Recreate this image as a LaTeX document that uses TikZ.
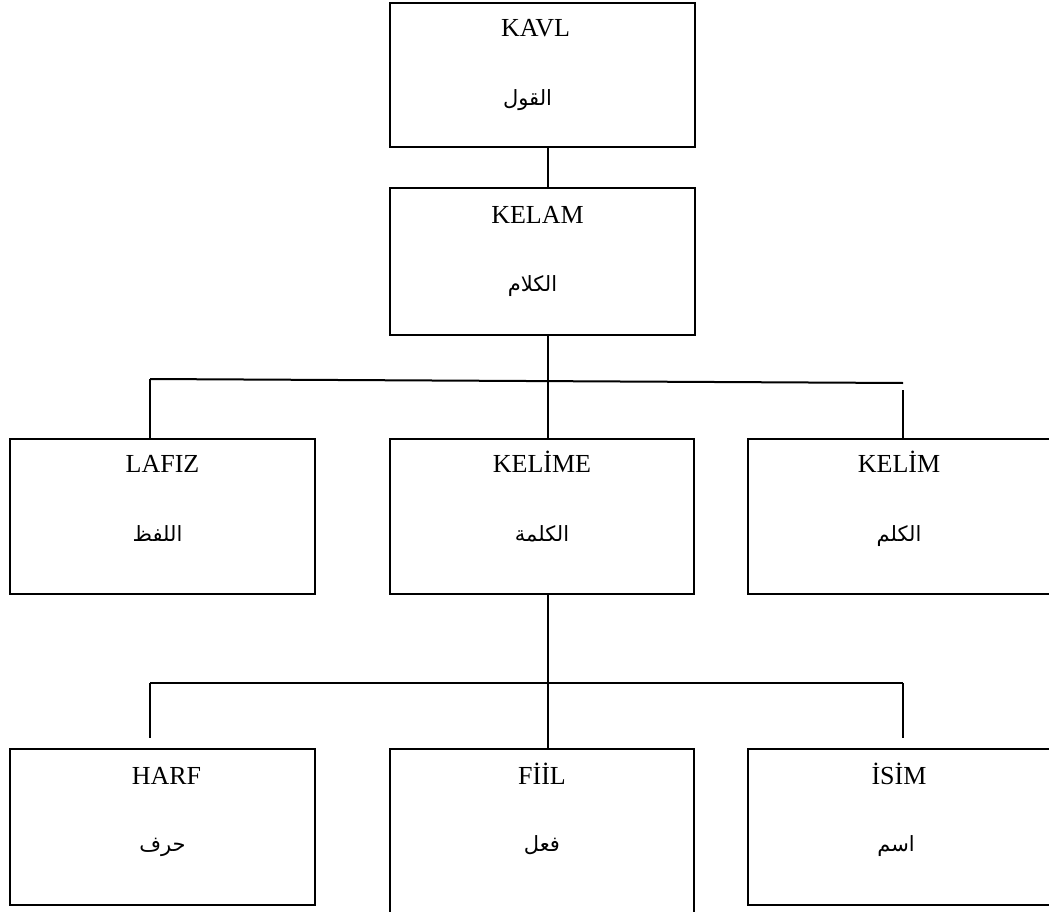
\documentclass[tikz,border=0pt]{standalone}
\usepackage{fontspec}
\setmainfont{Liberation Serif}
\newfontfamily\arabicfont[Script=Arabic]{DejaVu Sans}
\TeXXeTstate=1
\usepackage{tikz}
\usetikzlibrary{positioning, calc}
\tikzset{
	box/.style={draw, line width=2pt, inner sep=0pt},
	latin/.style={font=\fontsize{26}{30}\selectfont, anchor=base},
	arab/.style={font=\arabicfont\fontsize{21}{24}\selectfont, anchor=base},
	link/.style={line width=2pt}
}

\begin{document}
\begin{tikzpicture}[x=1pt,y=1pt]
			\clip (0,0) rectangle (1049,-912);
			% boxes
			\node[box, minimum width=305pt, minimum height=144pt] (kavl) at (542.5,-75) {};
			\node[box, minimum width=305pt, minimum height=147pt] (kelam) at (542.5,-261.5) {};
			\node[box, minimum width=305pt, minimum height=155pt] (lafiz) at (162.5,-516.5) {};
			\node[box, minimum width=304pt, minimum height=155pt] (kelime) at (542,-516.5) {};
			\node[box, minimum width=302pt, minimum height=155pt] (kelim) at (899,-516.5) {};
			\node[box, minimum width=305pt, minimum height=156pt] (harf) at (162.5,-827) {};
			\node[box, minimum width=304pt, minimum height=176pt] (fiil) at (542,-837) {};
			\node[box, minimum width=302pt, minimum height=156pt] (isim) at (899,-827) {};
			% turkish names
			\node[latin] (kavlT) at ([xshift=-7pt,yshift=-35pt]kavl.north) {KAVL};
			\node[latin] (kelamT) at ([xshift=-5pt,yshift=-36pt]kelam.north) {KELAM};
			\node[latin] (lafizT) at ([yshift=-34pt]lafiz.north) {LAFIZ};
			\node[latin] (kelimeT) at ([yshift=-34pt]kelime.north) {KELİME};
			\node[latin] (kelimT) at ([yshift=-34pt]kelim.north) {KELİM};
			\node[latin] (harfT) at ([xshift=4pt,yshift=-36pt]harf.north) {HARF};
			\node[latin] (fiilT) at ([yshift=-36pt]fiil.north) {FİİL};
			\node[latin] (isimT) at ([yshift=-36pt]isim.north) {İSİM};
			% arabic names
			\node[arab] (kavlA) at ([xshift=-15pt,yshift=-104pt]kavl.north) {\beginR القول\endR};
			\node[arab] (kelamA) at ([xshift=-10pt,yshift=-104pt]kelam.north) {\beginR الكلام\endR};
			\node[arab] (lafizA) at ([xshift=-5pt,yshift=-103pt]lafiz.north) {\beginR اللفظ\endR};
			\node[arab] (kelimeA) at ([yshift=-103pt]kelime.north) {\beginR الكلمة\endR};
			\node[arab] (kelimA) at ([yshift=-103pt]kelim.north) {\beginR الكلم\endR};
			\node[arab] (harfA) at ([yshift=-103pt]harf.north) {\beginR حرف\endR};
			\node[arab] (fiilA) at ([yshift=-103pt]fiil.north) {\beginR فعل\endR};
			\node[arab] (isimA) at ([xshift=-3pt,yshift=-103pt]isim.north) {\beginR اسم\endR};
			% trunk and bars
			\coordinate (trunk) at (548,0);
			\coordinate (barL) at (150,-379);
			\coordinate (barR) at (903,-383);
			\coordinate (dropR) at (903,-390);
			\coordinate (lowL) at (150,-683);
			\coordinate (lowR) at (903,-683);
			\draw[link] (kavl.south -| trunk) -- (kelam.north -| trunk);
			\draw[link] (kelam.south -| trunk) -- (kelime.north -| trunk);
			\draw[link] (barL) -- (barR);
			\draw[link] (barL) -- (lafiz.north -| barL);
			\draw[link] (dropR) -- (kelim.north -| dropR);
			\draw[link] (kelime.south -| trunk) -- (fiil.north -| trunk);
			\draw[link] (lowL) -- (lowR);
			\draw[link] (lowL) -- ([yshift=10pt]harf.north -| lowL);
			\draw[link] (lowR) -- ([yshift=10pt]isim.north -| lowR);
		\end{tikzpicture}
\end{document}
